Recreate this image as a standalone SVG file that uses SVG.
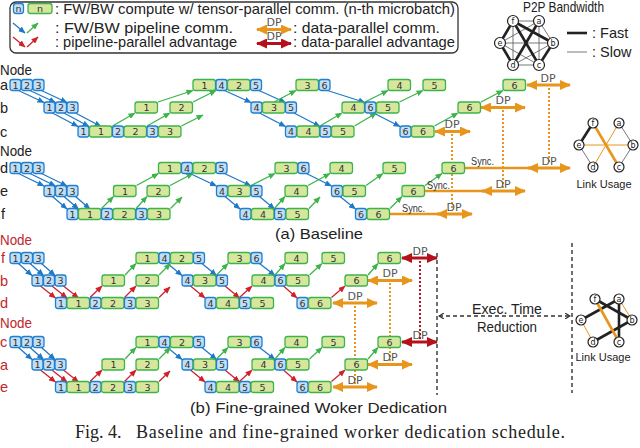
<svg xmlns="http://www.w3.org/2000/svg" width="640" height="448" viewBox="0 0 640 448">
<defs>
<marker id="mb" markerUnits="userSpaceOnUse" markerWidth="7" markerHeight="6" refX="6.5" refY="3" orient="auto"><path d="M0,0 L7,3 L0,6 z" fill="#1f78c8"/></marker>
<marker id="mg" markerUnits="userSpaceOnUse" markerWidth="7" markerHeight="6" refX="6.5" refY="3" orient="auto"><path d="M0,0 L7,3 L0,6 z" fill="#3cb44a"/></marker>
<marker id="mr" markerUnits="userSpaceOnUse" markerWidth="7" markerHeight="6" refX="6.5" refY="3" orient="auto"><path d="M0,0 L7,3 L0,6 z" fill="#d0202a"/></marker>
<marker id="mo" markerUnits="userSpaceOnUse" markerWidth="11" markerHeight="10" refX="10" refY="5" orient="auto-start-reverse"><path d="M0,0 L11,5 L0,10 z" fill="#e8951c"/></marker>
<marker id="md" markerUnits="userSpaceOnUse" markerWidth="11" markerHeight="10" refX="10" refY="5" orient="auto-start-reverse"><path d="M0,0 L11,5 L0,10 z" fill="#b3121d"/></marker>
<marker id="mk" markerUnits="userSpaceOnUse" markerWidth="6" markerHeight="6" refX="5" refY="3" orient="auto-start-reverse"><path d="M0,0 L5,3 L0,6" fill="none" stroke="#333" stroke-width="1.2"/></marker>
</defs>
<style>
.bb{fill:#c2def4;stroke:#1f7fd0;stroke-width:1.3}
.gb{fill:#d6e79d;stroke:#3cb44a;stroke-width:1.3}
.n{font-family:"DejaVu Sans",sans-serif;font-size:9.5px;fill:#333;text-anchor:middle}
.ab{stroke:#1f78c8;stroke-width:1.3;fill:none;marker-end:url(#mb)}
.ag{stroke:#3cb44a;stroke-width:1.3;fill:none;marker-end:url(#mg)}
.ar{stroke:#d0202a;stroke-width:1.3;fill:none;marker-end:url(#mr)}
.dp{stroke:#e8951c;stroke-width:3;marker-start:url(#mo);marker-end:url(#mo)}
.dpr{stroke:#b3121d;stroke-width:3;marker-start:url(#md);marker-end:url(#md)}
.dot{stroke:#e8951c;stroke-width:2;stroke-dasharray:2 2;fill:none}
.dotr{stroke:#c0121f;stroke-width:2;stroke-dasharray:2 2;fill:none}
.sync{stroke:#e8951c;stroke-width:2.5;fill:none}
.dl{font-family:"DejaVu Sans",sans-serif;font-size:11px;fill:#555;text-anchor:middle}
.sy{font-family:"Liberation Sans",sans-serif;font-size:10.5px;fill:#333;text-anchor:middle}
.lab{font-family:"Liberation Sans",sans-serif;font-size:14.5px;fill:#222}
.red{fill:#c1272d}
.leg{font-family:"Liberation Sans",sans-serif;font-size:14.5px;fill:#222}
.lu{font-family:"Liberation Sans",sans-serif;font-size:11px;fill:#222;text-anchor:middle}
.gn{fill:#fff;stroke:#222;stroke-width:1.2}
.gt{font-family:"DejaVu Sans",sans-serif;font-size:8px;fill:#222;text-anchor:middle}
.thk{stroke:#222;stroke-width:2.6}
.thn{stroke:#555;stroke-width:0.8}
.ok{stroke:#e8951c;stroke-width:2.6}
.on{stroke:#e8951c;stroke-width:1}
.kd{stroke:#333;stroke-width:1.4;stroke-dasharray:4 3;fill:none}
</style>
<rect width="640" height="448" fill="#fff"/>

<g id="legend">
<rect x="10" y="2" width="448" height="51" rx="6" fill="none" stroke="#333" stroke-width="1.3"/>
<rect class="bb" x="13.5" y="3.5" width="10" height="10" rx="2.5"/><text class="n" x="18.5" y="12">n</text>
<rect class="gb" x="28" y="3.5" width="24" height="10" rx="2.5"/><text class="n" x="40" y="12">n</text>
<text class="leg" x="55" y="13.5" textLength="400" lengthAdjust="spacingAndGlyphs">: FW/BW compute w/ tensor-parallel comm. (n-th microbatch)</text>
<line class="ab" x1="13" y1="23" x2="25" y2="33"/><line class="ag" x1="27" y1="33" x2="38" y2="23"/>
<text class="leg" x="55" y="32.5" textLength="178" lengthAdjust="spacingAndGlyphs">: FW/BW pipeline comm.</text>
<line class="ar" x1="13" y1="37" x2="25" y2="47"/><line class="ar" x1="27" y1="47" x2="38" y2="37"/>
<text class="leg" x="55" y="47" textLength="182" lengthAdjust="spacingAndGlyphs">: pipeline-parallel advantage</text>
<line class="dp" x1="257" y1="29.5" x2="291" y2="29.5"/><text class="dl" x="274" y="26">DP</text>
<text class="leg" x="293" y="32.5" textLength="147" lengthAdjust="spacingAndGlyphs">: data-parallel comm.</text>
<line class="dpr" x1="257" y1="43.5" x2="291" y2="43.5"/><text class="dl" x="274" y="40">DP</text>
<text class="leg" x="293" y="47" textLength="162" lengthAdjust="spacingAndGlyphs">: data-parallel advantage</text>
</g>

<g id="p2p">
<text class="leg" x="523" y="12" font-size="13" textLength="81" lengthAdjust="spacingAndGlyphs">P2P Bandwidth</text>
<line class="thn" x1="513" y1="21" x2="539" y2="21"/>
<line class="thn" x1="513" y1="21" x2="513" y2="65"/>
<line class="thn" x1="539" y1="21" x2="500" y2="43"/>
<line class="thn" x1="539" y1="21" x2="553" y2="43"/>
<line class="thn" x1="539" y1="21" x2="539" y2="65"/>
<line class="thn" x1="500" y1="43" x2="553" y2="43"/>
<line class="thn" x1="500" y1="43" x2="539" y2="65"/>
<line class="thn" x1="553" y1="43" x2="513" y2="65"/>
<line class="thn" x1="513" y1="65" x2="539" y2="65"/>
<line class="thk" x1="513" y1="21" x2="500" y2="43"/>
<line class="thk" x1="513" y1="21" x2="553" y2="43"/>
<line class="thk" x1="513" y1="21" x2="539" y2="65"/>
<line class="thk" x1="539" y1="21" x2="513" y2="65"/>
<line class="thk" x1="500" y1="43" x2="513" y2="65"/>
<line class="thk" x1="553" y1="43" x2="539" y2="65"/>
<circle class="gn" cx="513" cy="21" r="5.5"/><text class="gt" x="513" y="24">f</text>
<circle class="gn" cx="539" cy="21" r="5.5"/><text class="gt" x="539" y="24">a</text>
<circle class="gn" cx="500" cy="43" r="5.5"/><text class="gt" x="500" y="46">e</text>
<circle class="gn" cx="553" cy="43" r="5.5"/><text class="gt" x="553" y="46">b</text>
<circle class="gn" cx="513" cy="65" r="5.5"/><text class="gt" x="513" y="68">d</text>
<circle class="gn" cx="539" cy="65" r="5.5"/><text class="gt" x="539" y="68">c</text>
<line class="thk" x1="567" y1="33" x2="587" y2="33"/><text class="leg" x="592" y="37.5" font-size="13.5">: Fast</text>
<line class="thn" x1="567" y1="52" x2="587" y2="52"/><text class="leg" x="592" y="56.5" font-size="13.5">: Slow</text>
</g>

<g id="labels">
<text class="lab" x="0" y="74.5" font-size="13.5" textLength="32" lengthAdjust="spacingAndGlyphs">Node</text>
<text class="lab" x="0" y="90">a</text><text class="lab" x="0" y="112.5">b</text><text class="lab" x="0" y="136.5">c</text>
<text class="lab" x="0" y="156" font-size="13.5" textLength="32" lengthAdjust="spacingAndGlyphs">Node</text>
<text class="lab" x="0" y="173">d</text><text class="lab" x="0" y="196">e</text><text class="lab" x="1" y="219">f</text>
<text class="lab red" x="0" y="244.5" font-size="13.5" textLength="32" lengthAdjust="spacingAndGlyphs">Node</text>
<text class="lab red" x="1" y="263">f</text><text class="lab red" x="0" y="285.5">b</text><text class="lab red" x="0" y="308">d</text>
<text class="lab red" x="0" y="327.5" font-size="13.5" textLength="32" lengthAdjust="spacingAndGlyphs">Node</text>
<text class="lab red" x="0" y="347">c</text><text class="lab red" x="0" y="369.5">a</text><text class="lab red" x="0" y="392">e</text>
<text class="lab" x="275" y="238.5" font-size="16.5" textLength="88" lengthAdjust="spacingAndGlyphs">(a) Baseline</text>
<text class="lab" x="190" y="412.5" font-size="16.5" textLength="257" lengthAdjust="spacingAndGlyphs">(b) Fine-grained Woker Dedication</text>
<text x="75" y="438" font-family="Liberation Serif, serif" font-size="18" fill="#222">Fig. 4.</text>
<text x="136" y="438" font-family="Liberation Serif, serif" font-size="18" fill="#222" textLength="429">Baseline and fine-grained worker dedication schedule.</text>
</g>

<g id="connectors">
<line class="ab" x1="18.5" y1="90.5" x2="44" y2="102.5"/>
<line class="ab" x1="30" y1="90.5" x2="55.5" y2="102.5"/>
<line class="ab" x1="41.5" y1="90.5" x2="67" y2="102.5"/>
<line class="ab" x1="224.5" y1="90.5" x2="251" y2="102.5"/>
<line class="ab" x1="259" y1="90.5" x2="285.5" y2="102.5"/>
<line class="ab" x1="327.5" y1="90.5" x2="365" y2="102.5"/>
<line class="ab" x1="52.5" y1="113" x2="78" y2="126.5"/>
<line class="ab" x1="64" y1="113" x2="89" y2="126.5"/>
<line class="ab" x1="75.5" y1="113" x2="101" y2="126.5"/>
<line class="ab" x1="259.5" y1="113" x2="285.5" y2="126.5"/>
<line class="ab" x1="294" y1="113" x2="320" y2="126.5"/>
<line class="ab" x1="373.5" y1="113" x2="400" y2="126.5"/>
<line class="ag" x1="112.5" y1="126" x2="135" y2="113"/>
<line class="ag" x1="147" y1="126" x2="170" y2="113"/>
<line class="ag" x1="181.5" y1="126" x2="203" y2="115"/>
<line class="ag" x1="320" y1="126" x2="342" y2="113"/>
<line class="ag" x1="354.5" y1="126" x2="376.5" y2="113"/>
<line class="ag" x1="434.5" y1="126" x2="458" y2="113"/>
<line class="ag" x1="158" y1="102" x2="193" y2="90.5"/>
<line class="ag" x1="193" y1="102" x2="216" y2="90.5"/>
<line class="ag" x1="274" y1="102" x2="296" y2="90.5"/>
<line class="ag" x1="365" y1="102" x2="388" y2="90.5"/>
<line class="ag" x1="399.5" y1="102" x2="423" y2="90.5"/>
<line class="ag" x1="481" y1="102" x2="503" y2="90.5"/>
<line class="ab" x1="18.5" y1="173.5" x2="44" y2="186"/>
<line class="ab" x1="30" y1="173.5" x2="55.5" y2="186"/>
<line class="ab" x1="41.5" y1="173.5" x2="67" y2="186"/>
<line class="ab" x1="190" y1="173.5" x2="216.5" y2="186"/>
<line class="ab" x1="224.5" y1="173.5" x2="251" y2="186"/>
<line class="ab" x1="306.5" y1="173.5" x2="331.5" y2="186"/>
<line class="ab" x1="52.5" y1="196.5" x2="67" y2="209"/>
<line class="ab" x1="64" y1="196.5" x2="78.5" y2="209"/>
<line class="ab" x1="75.5" y1="196.5" x2="90" y2="209"/>
<line class="ab" x1="225" y1="196.5" x2="240" y2="209"/>
<line class="ab" x1="259.5" y1="196.5" x2="274.5" y2="209"/>
<line class="ab" x1="340" y1="196.5" x2="355.5" y2="209"/>
<line class="ag" x1="101.5" y1="208.5" x2="113.5" y2="196.5"/>
<line class="ag" x1="136" y1="208.5" x2="147" y2="196.5"/>
<line class="ag" x1="170.5" y1="208.5" x2="182" y2="197"/>
<line class="ag" x1="274.5" y1="208.5" x2="285" y2="196.5"/>
<line class="ag" x1="309" y1="208.5" x2="320" y2="197"/>
<line class="ag" x1="390" y1="208.5" x2="402" y2="196.5"/>
<line class="ag" x1="136.5" y1="185.5" x2="158.5" y2="173.5"/>
<line class="ag" x1="170" y1="185.5" x2="193" y2="173.5"/>
<line class="ag" x1="251" y1="185.5" x2="275" y2="173.5"/>
<line class="ag" x1="308" y1="185.5" x2="330" y2="173.5"/>
<line class="ag" x1="366" y1="185.5" x2="383" y2="173.5"/>
<line class="ag" x1="425" y1="185.5" x2="442" y2="173.5"/>
<line class="ab" x1="18.5" y1="263.5" x2="32" y2="275.5"/>
<line class="ab" x1="30" y1="263.5" x2="43.5" y2="275.5"/>
<line class="ab" x1="41.5" y1="263.5" x2="55" y2="275.5"/>
<line class="ab" x1="167.5" y1="263.5" x2="182" y2="275.5"/>
<line class="ab" x1="202" y1="263.5" x2="216.5" y2="275.5"/>
<line class="ab" x1="259.5" y1="263.5" x2="275" y2="275.5"/>
<line class="ar" x1="40.5" y1="286" x2="55.5" y2="298"/>
<line class="ar" x1="52" y1="286" x2="67" y2="298"/>
<line class="ar" x1="63.5" y1="286" x2="78.5" y2="298"/>
<line class="ar" x1="190.5" y1="286" x2="205" y2="298"/>
<line class="ar" x1="225" y1="286" x2="239.5" y2="298"/>
<line class="ar" x1="283.5" y1="286" x2="297" y2="298"/>
<line class="ar" x1="90" y1="297.5" x2="102" y2="286"/>
<line class="ar" x1="124.5" y1="297.5" x2="136" y2="286"/>
<line class="ar" x1="159" y1="297.5" x2="170" y2="287"/>
<line class="ar" x1="239.5" y1="297.5" x2="252" y2="286"/>
<line class="ar" x1="331.5" y1="297.5" x2="345" y2="286"/>
<line class="ag" x1="125" y1="275" x2="136" y2="263.5"/>
<line class="ag" x1="159" y1="275" x2="170.5" y2="263.5"/>
<line class="ag" x1="216.5" y1="275" x2="228" y2="263.5"/>
<line class="ag" x1="275" y1="275" x2="285" y2="263.5"/>
<line class="ag" x1="309.5" y1="275" x2="322" y2="263.5"/>
<line class="ag" x1="368" y1="275" x2="378" y2="263.5"/>
<line class="ab" x1="18.5" y1="347.5" x2="32" y2="359.5"/>
<line class="ab" x1="30" y1="347.5" x2="43.5" y2="359.5"/>
<line class="ab" x1="41.5" y1="347.5" x2="55" y2="359.5"/>
<line class="ab" x1="167.5" y1="347.5" x2="182" y2="359.5"/>
<line class="ab" x1="202" y1="347.5" x2="216.5" y2="359.5"/>
<line class="ab" x1="259.5" y1="347.5" x2="275" y2="359.5"/>
<line class="ar" x1="40.5" y1="370" x2="55.5" y2="382"/>
<line class="ar" x1="52" y1="370" x2="67" y2="382"/>
<line class="ar" x1="63.5" y1="370" x2="78.5" y2="382"/>
<line class="ar" x1="190.5" y1="370" x2="205" y2="382"/>
<line class="ar" x1="225" y1="370" x2="239.5" y2="382"/>
<line class="ar" x1="283.5" y1="370" x2="297" y2="382"/>
<line class="ar" x1="90" y1="381.5" x2="102" y2="370"/>
<line class="ar" x1="124.5" y1="381.5" x2="136" y2="370"/>
<line class="ar" x1="159" y1="381.5" x2="170" y2="371"/>
<line class="ar" x1="239.5" y1="381.5" x2="252" y2="370"/>
<line class="ar" x1="331.5" y1="381.5" x2="345" y2="370"/>
<line class="ag" x1="125" y1="359" x2="136" y2="347.5"/>
<line class="ag" x1="159" y1="359" x2="170.5" y2="347.5"/>
<line class="ag" x1="216.5" y1="359" x2="228" y2="347.5"/>
<line class="ag" x1="275" y1="359" x2="285" y2="347.5"/>
<line class="ag" x1="309.5" y1="359" x2="322" y2="347.5"/>
<line class="ag" x1="368" y1="359" x2="378" y2="347.5"/>
<line class="dot" x1="549" y1="88" x2="549" y2="164"/>
<line class="dot" x1="503" y1="110" x2="503" y2="188"/>
<line class="dot" x1="452" y1="134" x2="452" y2="211"/>
<line class="sync" x1="465" y1="168" x2="530" y2="168"/>
<line class="sync" x1="425" y1="191" x2="484" y2="191"/>
<line class="sync" x1="390" y1="214" x2="439" y2="214"/>
<line class="dp" x1="527" y1="85" x2="570" y2="85"/><text class="dl" x="548" y="81.5">DP</text>
<line class="dp" x1="481" y1="107.5" x2="525" y2="107.5"/><text class="dl" x="503" y="104">DP</text>
<line class="dp" x1="435" y1="131.5" x2="470" y2="131.5"/><text class="dl" x="452" y="128">DP</text>
<line class="dp" x1="528" y1="168" x2="570" y2="168"/><text class="dl" x="549" y="164.5">DP</text>
<line class="dp" x1="482" y1="191" x2="525" y2="191"/><text class="dl" x="503" y="187.5">DP</text>
<line class="dp" x1="437" y1="214" x2="472" y2="214"/><text class="dl" x="454" y="210.5">DP</text>
<text class="sy" x="482.5" y="165" textLength="23" lengthAdjust="spacingAndGlyphs">Sync.</text>
<text class="sy" x="438.5" y="188.5" textLength="23" lengthAdjust="spacingAndGlyphs">Sync.</text>
<text class="sy" x="413.5" y="211.5" textLength="23" lengthAdjust="spacingAndGlyphs">Sync.</text>
<line class="dotr" x1="420" y1="261" x2="420" y2="339"/>
<line class="dot" x1="390" y1="283" x2="390" y2="361"/>
<line class="dot" x1="355" y1="306" x2="355" y2="384"/>
<line class="dpr" x1="402" y1="258" x2="437" y2="258"/><text class="dl" x="420" y="254.5">DP</text>
<line class="dp" x1="368" y1="280.5" x2="412" y2="280.5"/><text class="dl" x="390" y="277">DP</text>
<line class="dp" x1="333" y1="303" x2="377" y2="303"/><text class="dl" x="355" y="299.5">DP</text>
<line class="dpr" x1="402" y1="342" x2="437" y2="342"/><text class="dl" x="420" y="338.5">DP</text>
<line class="dp" x1="368" y1="364.5" x2="412" y2="364.5"/><text class="dl" x="390" y="361">DP</text>
<line class="dp" x1="333" y1="387" x2="377" y2="387"/><text class="dl" x="355" y="383.5">DP</text>
<line class="kd" x1="437" y1="253" x2="437" y2="395"/>
<line class="kd" x1="572" y1="243" x2="572" y2="393"/>
<line class="kd" x1="439" y1="316" x2="570" y2="316" marker-start="url(#mk)" marker-end="url(#mk)"/>
<text class="leg" x="472" y="313.5" font-size="14" textLength="70" lengthAdjust="spacingAndGlyphs">Exec. Time</text>
<text class="leg" x="477" y="331.5" font-size="14" textLength="60" lengthAdjust="spacingAndGlyphs">Reduction</text>
</g>

<g id="usage-a">
<line class="thk" x1="593" y1="123" x2="579" y2="145"/>
<line class="thn" x1="579" y1="145" x2="593" y2="167" stroke="#222"/>
<line class="thn" x1="619" y1="123" x2="633" y2="145" stroke="#222"/>
<line class="thn" x1="633" y1="145" x2="619" y2="167" stroke="#222"/>
<line class="ok" x1="593" y1="123" x2="619" y2="167"/>
<line class="on" x1="619" y1="123" x2="593" y2="167"/>
<line class="on" x1="579" y1="145" x2="633" y2="145"/>
<circle class="gn" cx="593" cy="123" r="5"/><text class="gt" x="593" y="126">f</text>
<circle class="gn" cx="619" cy="123" r="5"/><text class="gt" x="619" y="126">a</text>
<circle class="gn" cx="579" cy="145" r="5"/><text class="gt" x="579" y="148">e</text>
<circle class="gn" cx="633" cy="145" r="5"/><text class="gt" x="633" y="148">b</text>
<circle class="gn" cx="593" cy="167" r="5"/><text class="gt" x="593" y="170">d</text>
<circle class="gn" cx="619" cy="167" r="5"/><text class="gt" x="619" y="170">c</text>
<text class="lu" x="604" y="188">Link Usage</text>
</g>

<g id="usage-b">
<line class="thk" x1="595" y1="299" x2="632" y2="320"/>
<line class="thk" x1="581" y1="320" x2="619" y2="299"/>
<line class="thk" x1="619" y1="299" x2="619" y2="342"/>
<line class="thk" x1="593" y1="342" x2="632" y2="320"/>
<line class="ok" x1="595" y1="299" x2="619" y2="342"/>
<line class="on" x1="619" y1="299" x2="632" y2="320"/>
<line class="on" x1="581" y1="320" x2="593" y2="342"/>
<circle class="gn" cx="595" cy="299" r="5"/><text class="gt" x="595" y="302">f</text>
<circle class="gn" cx="619" cy="299" r="5"/><text class="gt" x="619" y="302">a</text>
<circle class="gn" cx="581" cy="320" r="5"/><text class="gt" x="581" y="323">e</text>
<circle class="gn" cx="632" cy="320" r="5"/><text class="gt" x="632" y="323">b</text>
<circle class="gn" cx="593" cy="342" r="5"/><text class="gt" x="593" y="345">d</text>
<circle class="gn" cx="619" cy="342" r="5"/><text class="gt" x="619" y="345">c</text>
<text class="lu" x="603" y="361">Link Usage</text>
</g>

<g id="base-a">
<rect class="bb" x="10" y="79.5" width="11" height="11" rx="2.5"/><text class="n" x="15.5" y="88.5">1</text>
<rect class="bb" x="21.5" y="79.5" width="11" height="11" rx="2.5"/><text class="n" x="27" y="88.5">2</text>
<rect class="bb" x="33" y="79.5" width="11" height="11" rx="2.5"/><text class="n" x="38.5" y="88.5">3</text>
<rect class="gb" x="193" y="79.5" width="22.5" height="11" rx="2.5"/><text class="n" x="204.5" y="88.5">1</text>
<rect class="bb" x="216" y="79.5" width="11" height="11" rx="2.5"/><text class="n" x="221.5" y="88.5">4</text>
<rect class="gb" x="227.5" y="79.5" width="22.5" height="11" rx="2.5"/><text class="n" x="239" y="88.5">2</text>
<rect class="bb" x="250.5" y="79.5" width="11" height="11" rx="2.5"/><text class="n" x="256" y="88.5">5</text>
<rect class="gb" x="296" y="79.5" width="22.5" height="11" rx="2.5"/><text class="n" x="307.5" y="88.5">3</text>
<rect class="bb" x="319" y="79.5" width="11" height="11" rx="2.5"/><text class="n" x="324.5" y="88.5">6</text>
<rect class="gb" x="388" y="79.5" width="22.5" height="11" rx="2.5"/><text class="n" x="399.5" y="88.5">4</text>
<rect class="gb" x="423" y="79.5" width="22.5" height="11" rx="2.5"/><text class="n" x="434.5" y="88.5">5</text>
<rect class="gb" x="503" y="79.5" width="22.5" height="11" rx="2.5"/><text class="n" x="514.5" y="88.5">6</text>
</g>
<g id="base-b">
<rect class="bb" x="44" y="102" width="11" height="11" rx="2.5"/><text class="n" x="49.5" y="111">1</text>
<rect class="bb" x="55.5" y="102" width="11" height="11" rx="2.5"/><text class="n" x="61" y="111">2</text>
<rect class="bb" x="67" y="102" width="11" height="11" rx="2.5"/><text class="n" x="72.5" y="111">3</text>
<rect class="gb" x="135" y="102" width="22.5" height="11" rx="2.5"/><text class="n" x="146.5" y="111">1</text>
<rect class="gb" x="170" y="102" width="22.5" height="11" rx="2.5"/><text class="n" x="181.5" y="111">2</text>
<rect class="bb" x="251" y="102" width="11" height="11" rx="2.5"/><text class="n" x="256.5" y="111">4</text>
<rect class="gb" x="262.5" y="102" width="22.5" height="11" rx="2.5"/><text class="n" x="274" y="111">3</text>
<rect class="bb" x="285.5" y="102" width="11" height="11" rx="2.5"/><text class="n" x="291" y="111">5</text>
<rect class="gb" x="342" y="102" width="22.5" height="11" rx="2.5"/><text class="n" x="353.5" y="111">4</text>
<rect class="bb" x="365" y="102" width="11" height="11" rx="2.5"/><text class="n" x="370.5" y="111">6</text>
<rect class="gb" x="376.5" y="102" width="22.5" height="11" rx="2.5"/><text class="n" x="388" y="111">5</text>
<rect class="gb" x="458" y="102" width="22.5" height="11" rx="2.5"/><text class="n" x="469.5" y="111">6</text>
</g>
<g id="base-c">
<rect class="bb" x="78" y="126" width="11" height="11" rx="2.5"/><text class="n" x="83.5" y="135">1</text>
<rect class="gb" x="89.5" y="126" width="22.5" height="11" rx="2.5"/><text class="n" x="101" y="135">1</text>
<rect class="bb" x="112.5" y="126" width="11" height="11" rx="2.5"/><text class="n" x="118" y="135">2</text>
<rect class="gb" x="124" y="126" width="22.5" height="11" rx="2.5"/><text class="n" x="135.5" y="135">2</text>
<rect class="bb" x="147" y="126" width="11" height="11" rx="2.5"/><text class="n" x="152.5" y="135">3</text>
<rect class="gb" x="158.5" y="126" width="22.5" height="11" rx="2.5"/><text class="n" x="170" y="135">3</text>
<rect class="bb" x="285.5" y="126" width="11" height="11" rx="2.5"/><text class="n" x="291" y="135">4</text>
<rect class="gb" x="297" y="126" width="22.5" height="11" rx="2.5"/><text class="n" x="308.5" y="135">4</text>
<rect class="bb" x="320" y="126" width="11" height="11" rx="2.5"/><text class="n" x="325.5" y="135">5</text>
<rect class="gb" x="331.5" y="126" width="22.5" height="11" rx="2.5"/><text class="n" x="343" y="135">5</text>
<rect class="bb" x="400" y="126" width="11" height="11" rx="2.5"/><text class="n" x="405.5" y="135">6</text>
<rect class="gb" x="411.5" y="126" width="22.5" height="11" rx="2.5"/><text class="n" x="423" y="135">6</text>
</g>
<g id="base-d">
<rect class="bb" x="10" y="162.5" width="11" height="11" rx="2.5"/><text class="n" x="15.5" y="171.5">1</text>
<rect class="bb" x="21.5" y="162.5" width="11" height="11" rx="2.5"/><text class="n" x="27" y="171.5">2</text>
<rect class="bb" x="33" y="162.5" width="11" height="11" rx="2.5"/><text class="n" x="38.5" y="171.5">3</text>
<rect class="gb" x="158.5" y="162.5" width="22.5" height="11" rx="2.5"/><text class="n" x="170" y="171.5">1</text>
<rect class="bb" x="181.5" y="162.5" width="11" height="11" rx="2.5"/><text class="n" x="187" y="171.5">4</text>
<rect class="gb" x="193" y="162.5" width="22.5" height="11" rx="2.5"/><text class="n" x="204.5" y="171.5">2</text>
<rect class="bb" x="216" y="162.5" width="11" height="11" rx="2.5"/><text class="n" x="221.5" y="171.5">5</text>
<rect class="gb" x="275" y="162.5" width="22.5" height="11" rx="2.5"/><text class="n" x="286.5" y="171.5">3</text>
<rect class="bb" x="298" y="162.5" width="11" height="11" rx="2.5"/><text class="n" x="303.5" y="171.5">6</text>
<rect class="gb" x="330" y="162.5" width="22.5" height="11" rx="2.5"/><text class="n" x="341.5" y="171.5">4</text>
<rect class="gb" x="383" y="162.5" width="22.5" height="11" rx="2.5"/><text class="n" x="394.5" y="171.5">5</text>
<rect class="gb" x="442" y="162.5" width="22.5" height="11" rx="2.5"/><text class="n" x="453.5" y="171.5">6</text>
</g>
<g id="base-e">
<rect class="bb" x="44" y="185.5" width="11" height="11" rx="2.5"/><text class="n" x="49.5" y="194.5">1</text>
<rect class="bb" x="55.5" y="185.5" width="11" height="11" rx="2.5"/><text class="n" x="61" y="194.5">2</text>
<rect class="bb" x="67" y="185.5" width="11" height="11" rx="2.5"/><text class="n" x="72.5" y="194.5">3</text>
<rect class="gb" x="113.5" y="185.5" width="22.5" height="11" rx="2.5"/><text class="n" x="125" y="194.5">1</text>
<rect class="gb" x="147" y="185.5" width="22.5" height="11" rx="2.5"/><text class="n" x="158.5" y="194.5">2</text>
<rect class="bb" x="216.5" y="185.5" width="11" height="11" rx="2.5"/><text class="n" x="222" y="194.5">4</text>
<rect class="gb" x="228" y="185.5" width="22.5" height="11" rx="2.5"/><text class="n" x="239.5" y="194.5">3</text>
<rect class="bb" x="251" y="185.5" width="11" height="11" rx="2.5"/><text class="n" x="256.5" y="194.5">5</text>
<rect class="gb" x="285" y="185.5" width="22.5" height="11" rx="2.5"/><text class="n" x="296.5" y="194.5">4</text>
<rect class="bb" x="331.5" y="185.5" width="11" height="11" rx="2.5"/><text class="n" x="337" y="194.5">6</text>
<rect class="gb" x="343" y="185.5" width="22.5" height="11" rx="2.5"/><text class="n" x="354.5" y="194.5">5</text>
<rect class="gb" x="402" y="185.5" width="22.5" height="11" rx="2.5"/><text class="n" x="413.5" y="194.5">6</text>
</g>
<g id="base-f">
<rect class="bb" x="67" y="208.5" width="11" height="11" rx="2.5"/><text class="n" x="72.5" y="217.5">1</text>
<rect class="gb" x="78.5" y="208.5" width="22.5" height="11" rx="2.5"/><text class="n" x="90" y="217.5">1</text>
<rect class="bb" x="101.5" y="208.5" width="11" height="11" rx="2.5"/><text class="n" x="107" y="217.5">2</text>
<rect class="gb" x="113" y="208.5" width="22.5" height="11" rx="2.5"/><text class="n" x="124.5" y="217.5">2</text>
<rect class="bb" x="136" y="208.5" width="11" height="11" rx="2.5"/><text class="n" x="141.5" y="217.5">3</text>
<rect class="gb" x="147.5" y="208.5" width="22.5" height="11" rx="2.5"/><text class="n" x="159" y="217.5">3</text>
<rect class="bb" x="240" y="208.5" width="11" height="11" rx="2.5"/><text class="n" x="245.5" y="217.5">4</text>
<rect class="gb" x="251.5" y="208.5" width="22.5" height="11" rx="2.5"/><text class="n" x="263" y="217.5">4</text>
<rect class="bb" x="274.5" y="208.5" width="11" height="11" rx="2.5"/><text class="n" x="280" y="217.5">5</text>
<rect class="gb" x="286" y="208.5" width="22.5" height="11" rx="2.5"/><text class="n" x="297.5" y="217.5">5</text>
<rect class="bb" x="355.5" y="208.5" width="11" height="11" rx="2.5"/><text class="n" x="361" y="217.5">6</text>
<rect class="gb" x="367" y="208.5" width="22.5" height="11" rx="2.5"/><text class="n" x="378.5" y="217.5">6</text>
</g>

<g id="fine-f">
<rect class="bb" x="10" y="252.5" width="11" height="11" rx="2.5"/><text class="n" x="15.5" y="261.5">1</text>
<rect class="bb" x="21.5" y="252.5" width="11" height="11" rx="2.5"/><text class="n" x="27" y="261.5">2</text>
<rect class="bb" x="33" y="252.5" width="11" height="11" rx="2.5"/><text class="n" x="38.5" y="261.5">3</text>
<rect class="gb" x="136" y="252.5" width="22.5" height="11" rx="2.5"/><text class="n" x="147.5" y="261.5">1</text>
<rect class="bb" x="159" y="252.5" width="11" height="11" rx="2.5"/><text class="n" x="164.5" y="261.5">4</text>
<rect class="gb" x="170.5" y="252.5" width="22.5" height="11" rx="2.5"/><text class="n" x="182" y="261.5">2</text>
<rect class="bb" x="193.5" y="252.5" width="11" height="11" rx="2.5"/><text class="n" x="199" y="261.5">5</text>
<rect class="gb" x="228" y="252.5" width="22.5" height="11" rx="2.5"/><text class="n" x="239.5" y="261.5">3</text>
<rect class="bb" x="251" y="252.5" width="11" height="11" rx="2.5"/><text class="n" x="256.5" y="261.5">6</text>
<rect class="gb" x="285" y="252.5" width="22.5" height="11" rx="2.5"/><text class="n" x="296.5" y="261.5">4</text>
<rect class="gb" x="322" y="252.5" width="22.5" height="11" rx="2.5"/><text class="n" x="333.5" y="261.5">5</text>
<rect class="gb" x="378" y="252.5" width="22.5" height="11" rx="2.5"/><text class="n" x="389.5" y="261.5">6</text>
</g>
<g id="fine-b">
<rect class="bb" x="32" y="275" width="11" height="11" rx="2.5"/><text class="n" x="37.5" y="284">1</text>
<rect class="bb" x="43.5" y="275" width="11" height="11" rx="2.5"/><text class="n" x="49" y="284">2</text>
<rect class="bb" x="55" y="275" width="11" height="11" rx="2.5"/><text class="n" x="60.5" y="284">3</text>
<rect class="gb" x="102" y="275" width="22.5" height="11" rx="2.5"/><text class="n" x="113.5" y="284">1</text>
<rect class="gb" x="136" y="275" width="22.5" height="11" rx="2.5"/><text class="n" x="147.5" y="284">2</text>
<rect class="bb" x="182" y="275" width="11" height="11" rx="2.5"/><text class="n" x="187.5" y="284">4</text>
<rect class="gb" x="193.5" y="275" width="22.5" height="11" rx="2.5"/><text class="n" x="205" y="284">3</text>
<rect class="bb" x="216.5" y="275" width="11" height="11" rx="2.5"/><text class="n" x="222" y="284">5</text>
<rect class="gb" x="252" y="275" width="22.5" height="11" rx="2.5"/><text class="n" x="263.5" y="284">4</text>
<rect class="bb" x="275" y="275" width="11" height="11" rx="2.5"/><text class="n" x="280.5" y="284">6</text>
<rect class="gb" x="286.5" y="275" width="22.5" height="11" rx="2.5"/><text class="n" x="298" y="284">5</text>
<rect class="gb" x="345" y="275" width="22.5" height="11" rx="2.5"/><text class="n" x="356.5" y="284">6</text>
</g>
<g id="fine-d">
<rect class="bb" x="55.5" y="297.5" width="11" height="11" rx="2.5"/><text class="n" x="61" y="306.5">1</text>
<rect class="gb" x="67" y="297.5" width="22.5" height="11" rx="2.5"/><text class="n" x="78.5" y="306.5">1</text>
<rect class="bb" x="90" y="297.5" width="11" height="11" rx="2.5"/><text class="n" x="95.5" y="306.5">2</text>
<rect class="gb" x="101.5" y="297.5" width="22.5" height="11" rx="2.5"/><text class="n" x="113" y="306.5">2</text>
<rect class="bb" x="124.5" y="297.5" width="11" height="11" rx="2.5"/><text class="n" x="130" y="306.5">3</text>
<rect class="gb" x="136" y="297.5" width="22.5" height="11" rx="2.5"/><text class="n" x="147.5" y="306.5">3</text>
<rect class="bb" x="205" y="297.5" width="11" height="11" rx="2.5"/><text class="n" x="210.5" y="306.5">4</text>
<rect class="gb" x="216.5" y="297.5" width="22.5" height="11" rx="2.5"/><text class="n" x="228" y="306.5">4</text>
<rect class="bb" x="239.5" y="297.5" width="11" height="11" rx="2.5"/><text class="n" x="245" y="306.5">5</text>
<rect class="gb" x="251" y="297.5" width="22.5" height="11" rx="2.5"/><text class="n" x="262.5" y="306.5">5</text>
<rect class="bb" x="297" y="297.5" width="11" height="11" rx="2.5"/><text class="n" x="302.5" y="306.5">6</text>
<rect class="gb" x="308.5" y="297.5" width="22.5" height="11" rx="2.5"/><text class="n" x="320" y="306.5">6</text>
</g>
<g id="fine-c">
<rect class="bb" x="10" y="336.5" width="11" height="11" rx="2.5"/><text class="n" x="15.5" y="345.5">1</text>
<rect class="bb" x="21.5" y="336.5" width="11" height="11" rx="2.5"/><text class="n" x="27" y="345.5">2</text>
<rect class="bb" x="33" y="336.5" width="11" height="11" rx="2.5"/><text class="n" x="38.5" y="345.5">3</text>
<rect class="gb" x="136" y="336.5" width="22.5" height="11" rx="2.5"/><text class="n" x="147.5" y="345.5">1</text>
<rect class="bb" x="159" y="336.5" width="11" height="11" rx="2.5"/><text class="n" x="164.5" y="345.5">4</text>
<rect class="gb" x="170.5" y="336.5" width="22.5" height="11" rx="2.5"/><text class="n" x="182" y="345.5">2</text>
<rect class="bb" x="193.5" y="336.5" width="11" height="11" rx="2.5"/><text class="n" x="199" y="345.5">5</text>
<rect class="gb" x="228" y="336.5" width="22.5" height="11" rx="2.5"/><text class="n" x="239.5" y="345.5">3</text>
<rect class="bb" x="251" y="336.5" width="11" height="11" rx="2.5"/><text class="n" x="256.5" y="345.5">6</text>
<rect class="gb" x="285" y="336.5" width="22.5" height="11" rx="2.5"/><text class="n" x="296.5" y="345.5">4</text>
<rect class="gb" x="322" y="336.5" width="22.5" height="11" rx="2.5"/><text class="n" x="333.5" y="345.5">5</text>
<rect class="gb" x="378" y="336.5" width="22.5" height="11" rx="2.5"/><text class="n" x="389.5" y="345.5">6</text>
</g>
<g id="fine-a">
<rect class="bb" x="32" y="359" width="11" height="11" rx="2.5"/><text class="n" x="37.5" y="368">1</text>
<rect class="bb" x="43.5" y="359" width="11" height="11" rx="2.5"/><text class="n" x="49" y="368">2</text>
<rect class="bb" x="55" y="359" width="11" height="11" rx="2.5"/><text class="n" x="60.5" y="368">3</text>
<rect class="gb" x="102" y="359" width="22.5" height="11" rx="2.5"/><text class="n" x="113.5" y="368">1</text>
<rect class="gb" x="136" y="359" width="22.5" height="11" rx="2.5"/><text class="n" x="147.5" y="368">2</text>
<rect class="bb" x="182" y="359" width="11" height="11" rx="2.5"/><text class="n" x="187.5" y="368">4</text>
<rect class="gb" x="193.5" y="359" width="22.5" height="11" rx="2.5"/><text class="n" x="205" y="368">3</text>
<rect class="bb" x="216.5" y="359" width="11" height="11" rx="2.5"/><text class="n" x="222" y="368">5</text>
<rect class="gb" x="252" y="359" width="22.5" height="11" rx="2.5"/><text class="n" x="263.5" y="368">4</text>
<rect class="bb" x="275" y="359" width="11" height="11" rx="2.5"/><text class="n" x="280.5" y="368">6</text>
<rect class="gb" x="286.5" y="359" width="22.5" height="11" rx="2.5"/><text class="n" x="298" y="368">5</text>
<rect class="gb" x="345" y="359" width="22.5" height="11" rx="2.5"/><text class="n" x="356.5" y="368">6</text>
</g>
<g id="fine-e">
<rect class="bb" x="55.5" y="381.5" width="11" height="11" rx="2.5"/><text class="n" x="61" y="390.5">1</text>
<rect class="gb" x="67" y="381.5" width="22.5" height="11" rx="2.5"/><text class="n" x="78.5" y="390.5">1</text>
<rect class="bb" x="90" y="381.5" width="11" height="11" rx="2.5"/><text class="n" x="95.5" y="390.5">2</text>
<rect class="gb" x="101.5" y="381.5" width="22.5" height="11" rx="2.5"/><text class="n" x="113" y="390.5">2</text>
<rect class="bb" x="124.5" y="381.5" width="11" height="11" rx="2.5"/><text class="n" x="130" y="390.5">3</text>
<rect class="gb" x="136" y="381.5" width="22.5" height="11" rx="2.5"/><text class="n" x="147.5" y="390.5">3</text>
<rect class="bb" x="205" y="381.5" width="11" height="11" rx="2.5"/><text class="n" x="210.5" y="390.5">4</text>
<rect class="gb" x="216.5" y="381.5" width="22.5" height="11" rx="2.5"/><text class="n" x="228" y="390.5">4</text>
<rect class="bb" x="239.5" y="381.5" width="11" height="11" rx="2.5"/><text class="n" x="245" y="390.5">5</text>
<rect class="gb" x="251" y="381.5" width="22.5" height="11" rx="2.5"/><text class="n" x="262.5" y="390.5">5</text>
<rect class="bb" x="297" y="381.5" width="11" height="11" rx="2.5"/><text class="n" x="302.5" y="390.5">6</text>
<rect class="gb" x="308.5" y="381.5" width="22.5" height="11" rx="2.5"/><text class="n" x="320" y="390.5">6</text>
</g>
</svg>
